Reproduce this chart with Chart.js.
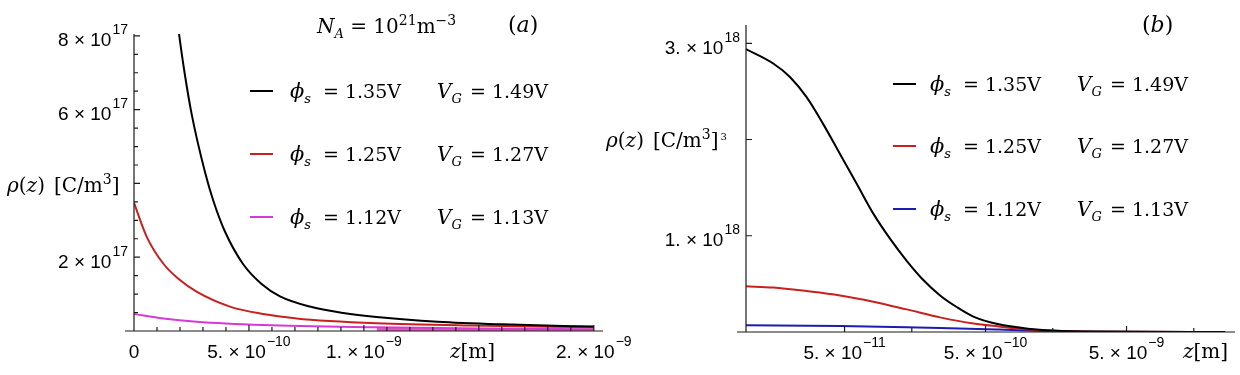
<!DOCTYPE html>
<html lang="en">
<head>
<meta charset="utf-8">
<title>rho(z)</title>
<script src="https://cdn.jsdelivr.net/npm/chart.js@4.4.1/dist/chart.umd.min.js"></script>
<style>
  html, body { margin: 0; padding: 0; background: #fff; }
  #page { position: relative; width: 1240px; height: 375px; overflow: hidden; }
  .plot { position: absolute; top: 0; height: 375px; }
  #plotA { left: 0; width: 680px; }
  #plotB { left: 600px; width: 640px; }
  .t { position: absolute; white-space: nowrap; font-family: "DejaVu Serif", serif; font-size: 19px; line-height: 20px; color: #000; }
  .t sub { font-size: 13px; vertical-align: -5px; line-height: 0; }
  .t sup { font-size: 14px; vertical-align: 8px; line-height: 0; }
  .sw { position: absolute; width: 23px; height: 2px; }
</style>
</head>
<body>
<div id="page">
  <div class="plot" id="plotA"><canvas id="chartA"></canvas></div>
  <div class="plot" id="plotB"><canvas id="chartB"></canvas></div>
  <div id="labels"></div>
</div>
<script>
// ---- (a) linear z axis : z in m, rho in C/m^3 ----
const zBlackA   = [1.85e-10, 1.97e-10, 2.2e-10, 2.51e-10, 3.09e-10, 3.45e-10, 3.96e-10, 4.75e-10, 5.55e-10, 6.35e-10, 7.65e-10, 9.1e-10, 1.055e-9, 1.32e-9, 1.6e-9, 2.0e-9];
const rhoBlackA = [8.6e17, 8.0e17, 7.0e17, 5.87e17, 4.30e17, 3.53e17, 2.69e17, 1.81e17, 1.275e17, 0.94e17, 0.662e17, 0.489e17, 0.379e17, 0.251e17, 0.18e17, 0.12e17];
const zRedA     = [0, 0.55e-10, 1.27e-10, 2.0e-10, 2.72e-10, 4.17e-10, 5.62e-10, 7.07e-10, 8.5e-10, 1.055e-9, 1.46e-9, 2.0e-9];
const rhoRedA   = [3.47e17, 2.56e17, 1.83e17, 1.38e17, 1.065e17, 0.66e17, 0.46e17, 0.34e17, 0.27e17, 0.21e17, 0.15e17, 0.10e17];
const zMagA     = [0, 1.27e-10, 2.72e-10, 5.62e-10, 1.055e-9, 1.5e-9, 2.0e-9];
const rhoMagA   = [0.46e17, 0.34e17, 0.25e17, 0.16e17, 0.10e17, 0.07e17, 0.05e17];

const xLabTicksA = [0, 5e-10, 1e-9, 2e-9];
const xLabelsA   = [['0', ''], ['5. × 10', '−10'], ['1. × 10', '−9'], ['2. × 10', '−9']];
const xMajorA    = [5e-10, 1e-9, 1.5e-9, 2e-9];
const xMinorA    = [1e-10, 2e-10, 3e-10, 4e-10, 6e-10, 7e-10, 8e-10, 9e-10, 1.1e-9, 1.2e-9, 1.3e-9, 1.4e-9, 1.6e-9, 1.7e-9, 1.8e-9, 1.9e-9];
const yLabTicksA = [2e17, 6e17, 8e17];
const yLabelsA   = [['2 × 10', '17'], ['6 × 10', '17'], ['8 × 10', '17']];
const yMajorA    = [2e17, 4e17, 6e17, 8e17];
const yMinorA    = [0.5e17, 1e17, 1.5e17, 2.5e17, 3e17, 3.5e17, 4.5e17, 5e17, 5.5e17, 6.5e17, 7e17, 7.5e17];

// ---- (b) log z axis ----
const zBlackB   = [1e-11, 1.56e-11, 2.05e-11, 2.69e-11, 3.53e-11, 4.64e-11, 6.1e-11, 8.0e-11, 1.05e-10, 1.38e-10, 1.81e-10, 2.38e-10, 3.12e-10, 4.1e-10, 6.2e-10, 1.0e-9, 1.5e-9, 3e-9, 2.5e-8];
const rhoBlackB = [2.94e18, 2.79e18, 2.65e18, 2.44e18, 2.16e18, 1.85e18, 1.54e18, 1.23e18, 0.97e18, 0.74e18, 0.54e18, 0.38e18, 0.26e18, 0.16e18, 0.08e18, 0.035e18, 0.015e18, 0.004e18, 0];
const zRedB     = [1e-11, 1.56e-11, 2.69e-11, 4.64e-11, 8e-11, 1.38e-10, 2.38e-10, 4.1e-10, 6.2e-10, 1.03e-9, 1.5e-9, 3e-9, 2.5e-8];
const rhoRedB   = [0.475e18, 0.462e18, 0.425e18, 0.38e18, 0.315e18, 0.235e18, 0.152e18, 0.088e18, 0.058e18, 0.026e18, 0.012e18, 0.003e18, 0];
const zBlueB    = [1e-11, 4.64e-11, 1.38e-10, 2.38e-10, 6.2e-10, 1.5e-9, 3e-9, 2.5e-8];
const rhoBlueB  = [0.07e18, 0.062e18, 0.05e18, 0.042e18, 0.025e18, 0.008e18, 0.002e18, 0];

const xLabTicksB = [5e-11, 5e-10, 5e-9];
const xLabelsB   = [['5. × 10', '−11'], ['5. × 10', '−10'], ['5. × 10', '−9']];
const xMinorB    = [1.5e-10, 1.5e-9, 1.5e-8];
const yLabTicksB = [1e18, 3e18];
const yLabelsB   = [['1. × 10', '18'], ['3. × 10', '18']];
const yMajorB    = [1e18, 2e18, 3e18];

// legend text
const phiVals = ['1.35V', '1.25V', '1.12V'];
const vgVals  = ['1.49V', '1.27V', '1.13V'];
const colorsA = ['#000000', '#c8201e', '#d63ad6'];
const colorsB = ['#000000', '#c8201e', '#1c1cae'];

const pts = (xs, ys) => xs.map((v, i) => ({ x: v, y: ys[i] }));

// label with a raised exponent, drawn on the canvas
function expLabel(ctx, base, exp, x, y, align) {
  const fb = '19px "Liberation Sans", Arial, sans-serif';
  const fe = '14px "Liberation Sans", Arial, sans-serif';
  ctx.font = fb; const wb = ctx.measureText(base).width;
  ctx.font = fe; const we = exp ? ctx.measureText(exp).width + 1 : 0;
  const left = align === 'center' ? x - (wb + we) / 2 : x - wb - we;
  ctx.font = fb; ctx.fillText(base, left, y);
  if (exp) { ctx.font = fe; ctx.fillText(exp, left + wb + 1, y - 12); }
}

// inward ticks, axis lines and tick labels, Mathematica style
const innerTicks = {
  id: 'innerTicks',
  afterDatasetsDraw(chart, args, o) {
    const { ctx, chartArea: a, scales: { x, y } } = chart;
    ctx.save();
    ctx.strokeStyle = '#1a1a1a';
    ctx.lineWidth = 1.2;
    ctx.beginPath();
    ctx.moveTo(a.left - 9, a.bottom); ctx.lineTo(a.right, a.bottom);
    ctx.moveTo(a.left, a.top); ctx.lineTo(a.left, a.bottom);
    const tx = (vals, len) => vals.forEach(v => {
      const p = x.getPixelForValue(v);
      ctx.moveTo(p, a.bottom); ctx.lineTo(p, a.bottom - len);
    });
    const ty = (vals, len) => vals.forEach(v => {
      const p = y.getPixelForValue(v);
      ctx.moveTo(a.left, p); ctx.lineTo(a.left + len, p);
    });
    tx(o.xMajor, 6); tx(o.xMinor, 4);
    ty(o.yMajor, 6); ty(o.yMinor, 4);
    ctx.stroke();

    ctx.fillStyle = '#000';
    ctx.textBaseline = 'alphabetic';
    ctx.textAlign = 'left';
    o.xTicks.forEach((v, i) => expLabel(ctx, o.xLabels[i][0], o.xLabels[i][1], x.getPixelForValue(v), a.bottom + 27, 'center'));
    o.yTicks.forEach((v, i) => expLabel(ctx, o.yLabels[i][0], o.yLabels[i][1], a.left - 6, y.getPixelForValue(v) + 10.5, 'right'));
    ctx.restore();
  }
};

function makeChart(id, cfg) {
  return new Chart(document.getElementById(id), {
    type: 'line',
    data: { datasets: cfg.datasets },
    plugins: [innerTicks],
    options: {
      responsive: true,
      maintainAspectRatio: false,
      animation: false,
      devicePixelRatio: 1,
      layout: { autoPadding: false, padding: cfg.padding },
      elements: { point: { radius: 0 }, line: { borderWidth: 2, cubicInterpolationMode: 'monotone' } },
      plugins: { legend: { display: false }, tooltip: { enabled: false }, innerTicks: cfg.ticks },
      scales: {
        x: {
          type: cfg.xType, min: cfg.xMin, max: cfg.xMax,
          grid: { display: false, drawTicks: false },
          border: { display: false },
          ticks: { display: false },
          afterFit: s => { s.height = cfg.xHeight; }
        },
        y: {
          type: 'linear', min: 0, max: cfg.yMax,
          grid: { display: false, drawTicks: false },
          border: { display: false },
          ticks: { display: false },
          afterFit: s => { s.width = cfg.yWidth; }
        }
      }
    }
  });
}

makeChart('chartA', {
  datasets: [
    { data: pts(zBlackA, rhoBlackA), borderColor: colorsA[0] },
    { data: pts(zRedA, rhoRedA), borderColor: colorsA[1] },
    { data: pts(zMagA, rhoMagA), borderColor: colorsA[2] },
    // pinkish filling under the tail of the 1.12V curve
    { data: pts(zMagA, rhoMagA).filter(p => p.x >= 1.055e-9), borderWidth: 0, borderColor: 'rgba(0,0,0,0)',
      fill: 'origin', backgroundColor: 'rgba(214,40,150,0.75)' }
  ],
  padding: { left: 0, top: 34, right: 77, bottom: 0 },
  xType: 'linear', xMin: 0, xMax: 2.04e-9, xHeight: 44,
  yMax: 8.05e17, yWidth: 134,
  ticks: { xMajor: xMajorA, xMinor: xMinorA, yMajor: yMajorA, yMinor: yMinorA,
           xTicks: xLabTicksA, xLabels: xLabelsA, yTicks: yLabTicksA, yLabels: yLabelsA }
});

makeChart('chartB', {
  datasets: [
    { data: pts(zBlackB, rhoBlackB), borderColor: colorsB[0] },
    { data: pts(zRedB, rhoRedB), borderColor: colorsB[1] },
    { data: pts(zBlueB, rhoBlueB), borderColor: colorsB[2] }
  ],
  padding: { left: 0, top: 25, right: 5, bottom: 0 },
  xType: 'logarithmic', xMin: 1e-11, xMax: 2.94e-8, xHeight: 43,
  yMax: 3.19e18, yWidth: 146,
  ticks: { xMajor: xLabTicksB, xMinor: xMinorB, yMajor: yMajorB, yMinor: [],
           xTicks: xLabTicksB, xLabels: xLabelsB, yTicks: yLabTicksB, yLabels: yLabelsB }
});

// text overlays
const labels = document.getElementById('labels');
function put(html, x, cy, extra) {
  const d = document.createElement('div');
  d.className = 't';
  d.innerHTML = html;
  d.style.left = x + 'px';
  d.style.top = (cy - 10) + 'px';
  if (extra) Object.assign(d.style, extra);
  labels.appendChild(d);
}
function swatch(color, x, cy) {
  const d = document.createElement('div');
  d.className = 'sw';
  d.style.background = color;
  d.style.left = x + 'px';
  d.style.top = (cy - 1) + 'px';
  labels.appendChild(d);
}
function legend(colors, swX, textX, rows) {
  rows.forEach((cy, i) => {
    swatch(colors[i], swX, cy);
    put('<i>ϕ</i><sub><i>s</i></sub>', textX, cy, { fontSize: '21px' });
    put('= ' + phiVals[i], textX + 33, cy);
    put('<i>V</i><sub><i>G</i></sub>', textX + 147, cy, { fontSize: '20px' });
    put('= ' + vgVals[i], textX + 180, cy);
  });
}
legend(colorsA, 250, 290, [91, 154, 217]);
legend(colorsB, 893, 930, [83.5, 146, 208.5]);

const rhoLabel = '<i>ρ</i>(<i>z</i>)<span style="margin-left:9px">[C/m<sup>3</sup>]</span>';
put('<i>N</i><sub><i>A</i></sub> = 10<sup>21</sup>m<sup>−3</sup>', 317, 26, { fontSize: '20px' });
put('(<i>a</i>)', 508, 25, { fontSize: '22px' });
put('(<i>b</i>)', 1142, 25, { fontSize: '22px' });
put(rhoLabel, 7, 185, { fontSize: '20px' });
put(rhoLabel + '<span style="font-size:10px;vertical-align:7px;line-height:0;margin-left:2px">3</span>', 606, 140, { fontSize: '20px' });
put('<i>z</i>[m]', 450, 351, { fontSize: '20px' });
put('<i>z</i>[m]', 1183, 351, { fontSize: '20px' });
</script>
</body>
</html>
